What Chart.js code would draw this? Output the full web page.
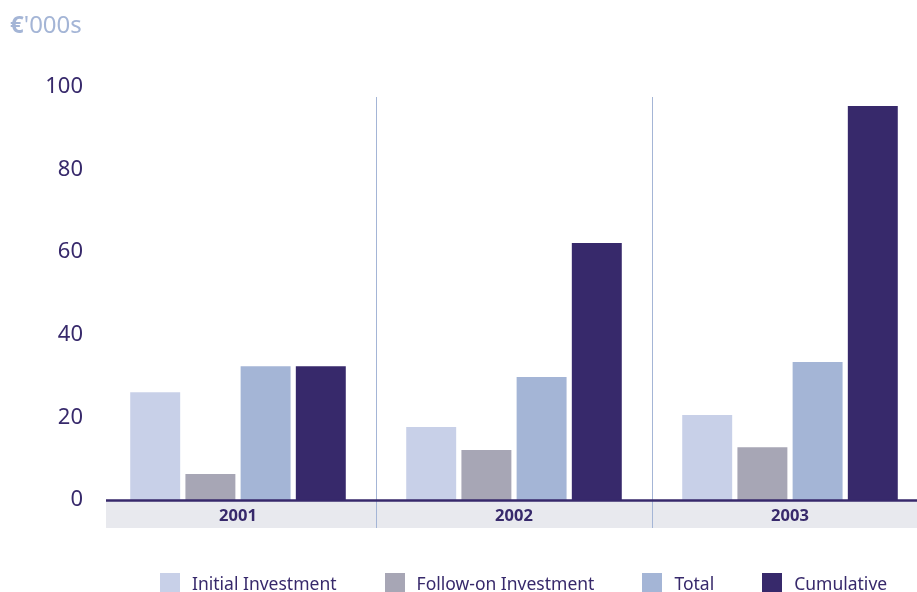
<!DOCTYPE html>
<html>
<head>
<meta charset="utf-8">
<script src="https://cdn.jsdelivr.net/npm/chart.js@4"></script>
<style>
  html, body { margin: 0; padding: 0; background: #ffffff; overflow: hidden; width: 917px; height: 592px; }
  #wrap { position: absolute; left: 0; top: 0; width: 928px; height: 592px; }
  #unit { position: absolute; left: 10px; top: 7px; font-family: "Noto Sans", sans-serif; font-size: 24px; color: #a4b5d6; white-space: nowrap; }
  #unit b { font-weight: 700; }
  #legend { position: absolute; left: 160px; top: 571px; width: 900px; display: flex; align-items: center; font-family: "Noto Sans", sans-serif; font-size: 17.5px; color: #37296b; white-space: nowrap; }
  .item { display: flex; align-items: center; margin-right: 48px; flex-shrink: 0; }
  .box { width: 20px; height: 20px; margin-right: 12px; flex-shrink: 0; }
</style>
</head>
<body>
<div id="wrap"><canvas id="c" width="928" height="592"></canvas></div>
<div id="unit"><b>€</b>'000s</div>
<div id="legend"></div>
<script>
// ---- data ----
const categories = ["2001", "2002", "2003"];
const seriesNames = ["Initial Investment", "Follow-on Investment", "Total", "Cumulative"];
const initialInvestment = [26.1, 17.7, 20.6];
const followOnInvestment = [6.3, 12.1, 12.8];
const totalInvestment = [32.4, 29.8, 33.4];
const cumulativeInvestment = [32.4, 62.2, 95.4];
const yTicks = [0, 20, 40, 60, 80, 100];

// ---- styles ----
const colors = ["#c8d0e8", "#a7a6b5", "#a4b5d6", "#37296b"];
const dark = "#37296b";

const seriesValues = [initialInvestment, followOnInvestment, totalInvestment, cumulativeInvestment];

const decor = {
  id: "decor",
  beforeDraw(chart) {
    const { ctx, chartArea } = chart;
    const x = chart.scales.x;
    ctx.save();
    // grey band under the axis
    ctx.fillStyle = "#e8e9ee";
    ctx.fillRect(chartArea.left + 6, chartArea.bottom + 1, chartArea.right - chartArea.left - 6, 27);
    // separators between categories
    ctx.strokeStyle = "#a4b5d6";
    ctx.lineWidth = 1;
    for (let i = 1; i < categories.length; i++) {
      const px = Math.round((x.getPixelForValue(i - 1) + x.getPixelForValue(i)) / 2) + 0.5;
      ctx.beginPath();
      ctx.moveTo(px, chartArea.top + 10);
      ctx.lineTo(px, chartArea.bottom + 28);
      ctx.stroke();
    }
    ctx.restore();
  },
  afterDatasetsDraw(chart) {
    const { ctx, chartArea } = chart;
    const y0 = chart.scales.y.getPixelForValue(0);
    ctx.save();
    ctx.strokeStyle = dark;
    ctx.lineWidth = 2.5;
    ctx.beginPath();
    ctx.moveTo(chartArea.left + 6, y0 + 0.5);
    ctx.lineTo(chartArea.right, y0 + 0.5);
    ctx.stroke();
    ctx.restore();
  }
};

new Chart(document.getElementById("c"), {
  type: "bar",
  data: {
    labels: categories,
    datasets: seriesNames.map((name, i) => ({
      label: name,
      data: seriesValues[i],
      backgroundColor: colors[i],
      borderWidth: 0,
      categoryPercentage: 0.8,
      barPercentage: 0.905
    }))
  },
  options: {
    responsive: false,
    animation: false,
    devicePixelRatio: 1,
    layout: { padding: { top: 87, bottom: 64, left: 0, right: 0 } },
    plugins: { legend: { display: false }, tooltip: { enabled: false }, title: { display: false } },
    scales: {
      x: {
        grid: { display: false, drawTicks: false },
        border: { display: false },
        ticks: { color: dark, font: { family: "Noto Sans", size: 16.5, weight: "bold" }, padding: 6 },
        afterFit(scale) { scale.height = 28; }
      },
      y: {
        min: 0, max: 100,
        afterBuildTicks(scale) { scale.ticks = yTicks.map(v => ({ value: v })); },
        grid: { display: false, drawTicks: false },
        border: { display: false },
        ticks: { color: dark, font: { family: "Noto Sans", size: 22 }, padding: 17 },
        afterFit(scale) { scale.width = 100; }
      }
    }
  },
  plugins: [decor]
});

// HTML legend
const legend = document.getElementById("legend");
seriesNames.forEach((name, i) => {
  const item = document.createElement("div");
  item.className = "item";
  const box = document.createElement("span");
  box.className = "box";
  box.style.background = colors[i];
  const txt = document.createElement("span");
  txt.textContent = name;
  item.appendChild(box);
  item.appendChild(txt);
  legend.appendChild(item);
});
</script>
</body>
</html>
